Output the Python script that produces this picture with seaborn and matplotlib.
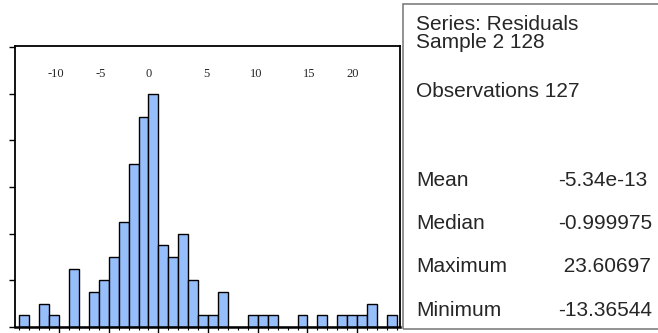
import matplotlib
matplotlib.use("Agg")
import matplotlib.pyplot as plt
from matplotlib.patches import Rectangle
from matplotlib.ticker import MultipleLocator
import seaborn as sns
import pandas as pd
import numpy as np

# ---- data ----
bin_left = [-14, -13, -12, -11, -10, -9, -8, -7, -6, -5, -4, -3, -2, -1,
            0, 1, 2, 3, 4, 5, 6, 7, 8, 9, 10, 11, 12, 13, 14, 15, 16, 17,
            18, 19, 20, 21, 22, 23]
counts = [1, 0, 2, 1, 0, 5, 0, 3, 4, 6, 9, 14, 18, 20,
          7, 6, 8, 4, 1, 1, 3, 0, 0, 1, 1, 1, 0, 0, 1, 0, 1, 0,
          1, 1, 1, 2, 0, 1]
bin_width = 1
axis_labels = ["-10", "-5", "0", "5", "10", "15", "20"]
stat_names = ["Mean", "Median", "Maximum", "Minimum"]
stat_values = ["-5.34e-13", "-0.999975", " 23.60697", "-13.36544"]
header_lines = ["Series: Residuals", "Sample 2 128", "Observations 127"]

# ---- layout ----
W, H = 658, 333
label_x = [-10.27, -5.83, -0.99, 4.85, 9.85, 15.22, 19.55]

sns.set_style("white")
plt.rcParams["font.family"] = ["Liberation Sans", "DejaVu Sans"]

fig = plt.figure(figsize=(W / 100, H / 100), dpi=100)
ax = fig.add_axes([15 / W, 1 - 327 / H, (400 - 15) / W, (327 - 46) / H])

df = pd.DataFrame({"x": [b + bin_width / 2 for b in bin_left], "w": counts})
edges = bin_left + [bin_left[-1] + bin_width]
sns.histplot(data=df, x="x", weights="w", bins=edges, stat="count",
             color="#96BEFA", edgecolor="black", linewidth=1.0, alpha=1.0,
             ax=ax)

ax.set_xlim(-14.43, 24.31)
ax.set_ylim(0, 24.08)
ax.set_xlabel("")
ax.set_ylabel("")

ax.xaxis.set_major_locator(MultipleLocator(5))
ax.xaxis.set_minor_locator(MultipleLocator(1))
ax.yaxis.set_major_locator(MultipleLocator(4))
ax.tick_params(axis="x", which="major", direction="out", length=4.5,
               width=1, color="black", bottom=True, labelbottom=False)
ax.tick_params(axis="x", which="minor", direction="out", length=2.5,
               width=0.8, color="black", bottom=True)
ax.tick_params(axis="y", which="major", direction="out", length=4,
               width=1, color="black", left=True, labelleft=False)
for s in ax.spines.values():
    s.set_visible(True)
    s.set_color("black")
    s.set_linewidth(1.3)
ax.spines["bottom"].set_linewidth(1.8)

# value labels inside the plot box (serif)
for lx, lab in zip(label_x, axis_labels):
    ax.text(lx, 1 - (74 - 46) / (327 - 46), lab,
            transform=ax.get_xaxis_transform(), ha="center", va="center",
            fontsize=9, family=["Liberation Serif", "DejaVu Serif"])

# statistics box
fig.patches.append(Rectangle((403 / W, 1 - 329 / H), (W + 5 - 403) / W,
                             (329 - 4) / H, transform=fig.transFigure,
                             fill=False, edgecolor="#7f7f7f", linewidth=1.2))

fs = 15
header_y = [30, 48, 97]
for y, t in zip(header_y, header_lines):
    fig.text(416 / W, 1 - y / H, t, ha="left", va="baseline", fontsize=fs)

stat_y = [186, 229, 272, 316]
for y, n, v in zip(stat_y, stat_names, stat_values):
    fig.text(416 / W, 1 - y / H, n, ha="left", va="baseline", fontsize=fs)
    fig.text(558 / W, 1 - y / H, v, ha="left", va="baseline", fontsize=fs)

fig.savefig("out.png", dpi=100)
